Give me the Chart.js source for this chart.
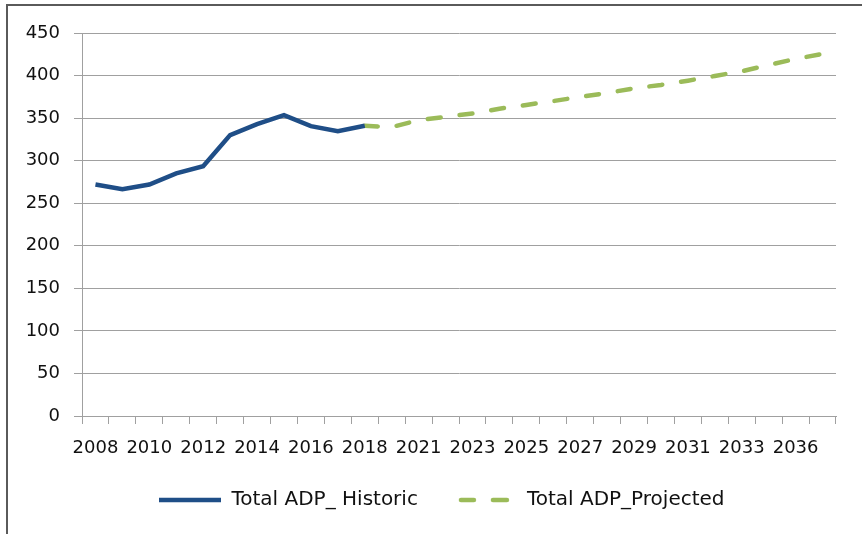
<!DOCTYPE html>
<html>
<head>
<meta charset="utf-8">
<script src="https://cdn.jsdelivr.net/npm/chart.js@4.4.1/dist/chart.umd.min.js"></script>
<style>
  html, body { margin: 0; padding: 0; background: #fff; overflow: hidden; }
  #frame {
    position: absolute; left: 6px; top: 4px;
    width: 900px; height: 560px;
    border-left: 2px solid #5a5a5a; border-top: 2px solid #5a5a5a;
  }
  #admChart { display: block; }
</style>
</head>
<body>
<div id="frame"><canvas id="admChart" width="871" height="527"></canvas></div>
<script>
// Years on the x axis (only every other one gets a label)
const years = ['2008', '2009', '2010', '2011', '2012', '2013', '2014', '2015', '2016', '2017', '2018',
  '2020', '2021', '2022', '2023', '2024', '2025', '2026', '2027', '2028', '2029', '2030', '2031', '2032',
  '2033', '2035', '2036', '2037'];

// Total ADP, historic (2008-2018)
const historic = [272, 266.5, 272, 285, 293.5, 330, 343, 353.5, 340.5, 334.5, 341,
  null, null, null, null, null, null, null, null, null, null, null, null, null, null, null, null, null];

// Total ADP, projected (starts from the 2018 value)
const projected = [null, null, null, null, null, null, null, null, null, null, 341,
  339.5, 347.5, 351.5, 355.5, 361, 365.5, 370, 375, 379.5, 385, 389, 394, 399.5, 405, 412.5, 419.5, 425.5];

const blue = '#1f4e87';
const green = '#9bbb59';

// little line samples for the legend
function sample(color, dashed) {
  const c = document.createElement('canvas');
  c.width = 62; c.height = 8;
  const g = c.getContext('2d');
  g.strokeStyle = color;
  g.lineWidth = 4.5;
  g.lineCap = dashed ? 'round' : 'butt';
  g.beginPath();
  if (dashed) {
    g.moveTo(6, 4); g.lineTo(19, 4);
    g.moveTo(38, 4); g.lineTo(52, 4);
  } else {
    g.moveTo(0, 4); g.lineTo(62, 4);
  }
  g.stroke();
  return c;
}
const samples = [sample(blue, false), sample(green, true)];

// nudge the bottom legend a little to the right, like the original
const legendNudge = {
  id: 'legendNudge',
  afterLayout(chart) {
    chart.legend.left += 13;
    chart.legend.right += 13;
  }
};

const config = {
  type: 'line',
  data: {
    labels: years,
    datasets: [{
      label: 'Total ADP_ Historic',
      data: historic,
      borderColor: blue,
      backgroundColor: blue,
      borderWidth: 4.5,
      pointRadius: 0,
      tension: 0
    }, {
      label: 'Total ADP_Projected',
      data: projected,
      borderColor: green,
      backgroundColor: green,
      borderWidth: 4.5,
      borderDash: [13, 19],
      borderCapStyle: 'round',
      pointRadius: 0,
      tension: 0
    }]
  },
  options: {
    responsive: false,
    animation: false,
    layout: { padding: { left: 14, right: 43, top: 27, bottom: 13 } },
    plugins: {
      tooltip: { enabled: false },
      legend: {
        position: 'bottom',
        labels: {
          usePointStyle: true,
          pointStyleWidth: 62,
          padding: 37,
          color: '#111',
          font: { family: 'DejaVu Sans', size: 20 },
          generateLabels: (chart) => {
            const items = Chart.defaults.plugins.legend.labels.generateLabels(chart);
            items.forEach((it, i) => { it.pointStyle = samples[i]; });
            return items;
          }
        }
      }
    },
    scales: {
      x: {
        offset: true,
        grid: { display: true, drawOnChartArea: false, drawTicks: true, tickLength: 8, offset: true, color: '#a0a0a0' },
        border: { display: true, color: '#a0a0a0' },
        ticks: {
          autoSkip: false,
          maxRotation: 0,
          padding: 14,
          color: '#111',
          font: { family: 'DejaVu Sans', size: 18 },
          callback: function (value, index) { return index % 2 === 0 ? this.getLabelForValue(value) : ''; }
        },
        afterFit: (scale) => { scale.height = 37; }
      },
      y: {
        min: 0,
        max: 450,
        grid: { color: '#a0a0a0', tickLength: 8 },
        border: { display: true, color: '#a0a0a0' },
        ticks: {
          stepSize: 50,
          padding: 14,
          color: '#111',
          font: { family: 'DejaVu Sans', size: 18 }
        },
        afterFit: (scale) => { scale.width = 60; }
      }
    }
  },
  plugins: [legendNudge]
};

const admChart = new Chart(document.getElementById('admChart'), config);
</script>
</body>
</html>
